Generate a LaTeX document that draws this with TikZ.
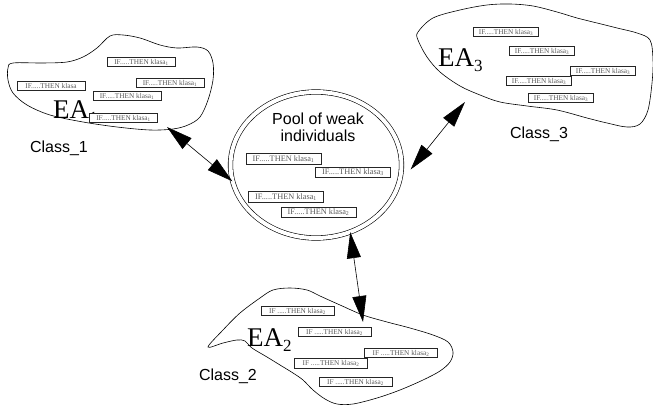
\documentclass[tikz,border=0pt]{standalone}
\usepackage{fontspec}
\setmainfont{Liberation Serif}
\setsansfont{Liberation Sans}
\usetikzlibrary{arrows.meta, shapes.geometric}

\newcommand{\ealabel}[1]{EA\raisebox{-5pt}{\fontsize{17}{17}\selectfont #1}}

\begin{document}
\begin{tikzpicture}[x=1pt, y=-1pt,
  rule/.style={draw=black!85, line width=0.9pt, fill=white, inner sep=0pt,
    minimum width=68pt, minimum height=9.5pt, text=black!65,
    font=\fontsize{7.3}{8}\selectfont},
  poolrule/.style={rule, minimum width=75pt, minimum height=10.5pt,
    font=\fontsize{8.3}{9}\selectfont},
  blob/.style={line width=0.6pt},
  ealbl/.style={anchor=base west, inner sep=0pt, font=\fontsize{27}{27}\selectfont},
  cls/.style={font=\sffamily\fontsize{16}{16}\selectfont},
  link/.style={line width=0.6pt,
    {Triangle[length=26pt,width=14pt]}-{Triangle[length=26pt,width=14pt]}}]

\useasboundingbox (0,0) rectangle (653,406);

% the three islands
\draw[blob] plot[smooth cycle, tension=0.55] coordinates {(13,63) (43,63) (67,62) (83,57)
  (97,48) (110,36) (123,35) (140,38) (160,45) (177,48) (197,47) (208,51) (213,63)
  (213,80) (208,100) (200,117) (188,125) (173,129) (150,130) (117,127) (83,122)
  (50,115) (27,105) (13,93) (8,80) (8,68)};
\draw[blob] plot[smooth cycle, tension=0.55] coordinates {(418,32) (433,18) (460,10)
  (487,5) (510,4) (533,6) (557,12) (577,18) (597,23) (617,28) (637,33) (650,40)
  (653,60) (652,83) (648,110) (640,124) (627,127) (607,123) (587,118) (557,110)
  (527,106) (500,102) (480,95) (460,86) (440,72) (427,57) (418,40)};
\draw[blob] plot[smooth cycle, tension=0.55] coordinates {(208,347) (223,330) (240,313)
  (260,298) (273,290) (290,288) (307,290) (320,296) (340,305) (363,315) (387,322)
  (410,328) (433,335) (448,342) (453,352) (450,362) (440,371) (423,380) (400,390)
  (377,398) (353,404) (337,404) (325,399) (313,390) (303,380) (293,373) (280,365)
  (267,357) (252,348) (245,341) (237,340) (223,343)};

% pool
\node[ellipse, draw, double, double distance=4pt, line width=0.6pt, inner sep=0pt,
  minimum width=171pt, minimum height=146pt] (pool) at (316,165) {};
\node[align=center, inner sep=0pt, font=\sffamily\fontsize{16}{17}\selectfont]
  (pooltitle) at (318,127) {Pool of weak\\individuals};

\node[ealbl] (ea1) at (53,119) {\ealabel{1}};
\node[ealbl] (ea2) at (247,346) {\ealabel{2}};
\node[ealbl] (ea3) at (438,67) {\ealabel{3}};

% rules of EA_1
\foreach \x/\y [count=\i] in {141.5/62, 170/83, 127/96, 123.5/118}
  \node[rule] (ra\i) at (\x,\y) {IF.....THEN klasa\textsubscript{1}};
\node[rule] (ra5) at (51,86) {IF.....THEN klasa};
% rules of EA_3
\foreach \x/\y [count=\i] in {506/32, 542/51, 603/71, 539/81, 561/98}
  \node[rule, minimum width=65pt] (rc\i) at (\x,\y) {IF.....THEN klasa\textsubscript{3}};
% rules of EA_2
\foreach \x/\y [count=\i] in {297.5/311, 334.5/332, 401/353, 331/363.5, 355.5/382}
  \node[rule, minimum width=73pt] (rb\i) at (\x,\y) {IF .....THEN klasa\textsubscript{2}};
% rules in the pool
\node[poolrule] (rp1) at (283.5,159) {IF.....THEN klasa\textsubscript{1}};
\node[poolrule] (rp2) at (353,172.5) {IF.....THEN klasa\textsubscript{3}};
\node[poolrule] (rp3) at (286,197) {IF.....THEN klasa\textsubscript{1}};
\node[poolrule] (rp4) at (318.5,212.5) {IF.....THEN klasa\textsubscript{2}};

\node[cls] (cls1) at (59,148) {Class\_1};
\node[cls] (cls2) at (228,376) {Class\_2};
\node[cls] (cls3) at (539,134) {Class\_3};

\coordinate (c1) at (167,127);
\coordinate (c2) at (363,322);
\coordinate (c3) at (465,102);
\draw[link] (c1) -- (pool.191);
\draw[link] (pool.297) -- (c2);
\draw[link] (c3) -- ([xshift=9pt]pool.357);
\end{tikzpicture}
\end{document}
